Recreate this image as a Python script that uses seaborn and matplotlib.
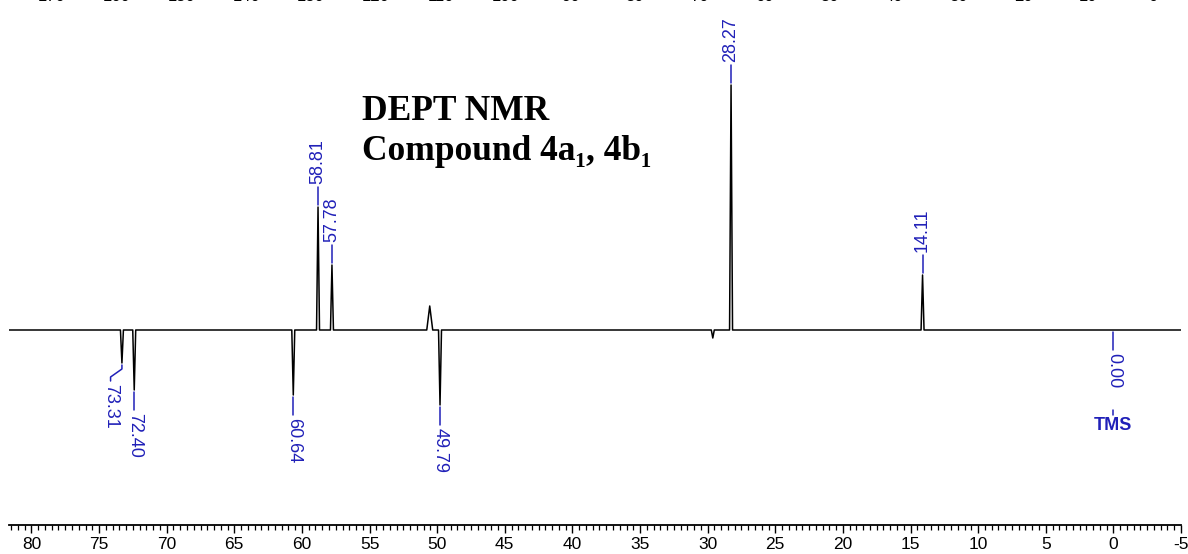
import matplotlib
matplotlib.use("Agg")
import matplotlib.pyplot as plt
import seaborn as sns
import pandas as pd

# ---------------- data ----------------
peak_ppm = [73.31, 72.40, 60.64, 58.81, 57.78, 50.55, 49.79, 29.62, 28.27, 14.11]
peak_int = [-33, -60, -65, 123, 65, 24, -75, -8, 245, 55]

label_ppm = [73.31, 72.40, 60.64, 58.81, 57.78, 49.79, 28.27, 14.11, 0.00]
label_text = ["73.31", "72.40", "60.64", "58.81", "57.78", "49.79", "28.27", "14.11", "0.00"]

x_ticks = [80, 75, 70, 65, 60, 55, 50, 45, 40, 35, 30, 25, 20, 15, 10, 5, 0, -5]
x_tick_labels = ["80", "75", "70", "65", "60", "55", "50", "45", "40", "35",
                 "30", "25", "20", "15", "10", "5", "0", "-5"]

top_ticks = [170, 160, 150, 140, 130, 120, 110, 100, 90, 80, 70, 60, 50, 40, 30, 20, 10, 0]
top_tick_labels = ["170", "160", "150", "140", "130", "120", "110", "100", "90",
                   "80", "70", "60", "50", "40", "30", "20", "10", "0"]

title_line1 = "DEPT NMR"
title_line2 = "Compound 4a\u2081, 4b\u2081"
tms_text = "TMS"

# ---------------- style ----------------
sns.set_style("white")
plt.rcParams["font.family"] = ["Liberation Sans", "DejaVu Sans"]
plt.rcParams["axes.unicode_minus"] = False

W, H = 1188, 554
BLUE = "#2020b8"
XL, XR = 81.66, -5.0

fig = plt.figure(figsize=(W / 100, H / 100), dpi=100)
ax = fig.add_axes([9 / W, 29 / H, 1172 / W, 525 / H])

# build spectrum trace from the peak list
half_w = {50.55: 0.22}
xs, ys = [XL], [0]
for p, h in sorted(zip(peak_ppm, peak_int), key=lambda t: -t[0]):
    w = half_w.get(p, 0.11)
    xs += [p + w, p, p - w]
    ys += [0, h, 0]
xs.append(XR)
ys.append(0)
spec = pd.DataFrame({"ppm": xs, "intensity": ys})
sns.lineplot(data=spec, x="ppm", y="intensity", sort=False, estimator=None,
             color="black", lw=1.1, ax=ax)

ax.set_xlim(XL, XR)
ax.set_ylim(-195, 330)

# peak labels
height = dict(zip(peak_ppm, peak_int))
for p, t in zip(label_ppm, label_text):
    h = height.get(p, 0)
    if p == 73.31:
        ax.plot([p, p, 74.15, 74.15], [h - 2, h - 6, h - 14, h - 18], color=BLUE, lw=1.1)
        ax.text(74.15, h - 21, t, rotation=270, ha="center", va="top",
                color=BLUE, fontsize=13)
    elif h > 0:
        ax.plot([p, p], [h + 2, h + 20], color=BLUE, lw=1.1)
        ax.text(p, h + 23, t, rotation=90, ha="center", va="bottom",
                color=BLUE, fontsize=13)
    else:
        ax.plot([p, p], [h - 2, h - 20], color=BLUE, lw=1.1)
        ax.text(p, h - 23, t, rotation=270, ha="center", va="top",
                color=BLUE, fontsize=13)
        if t == "0.00":
            ax.plot([p, p], [-80, -85], color=BLUE, lw=1.1)
            ax.text(p, -87, tms_text, ha="center", va="top", color=BLUE,
                    fontsize=13, fontweight="bold")

# axes styling
for s in ["left", "right", "top"]:
    ax.spines[s].set_visible(False)
ax.spines["bottom"].set_color("black")
ax.spines["bottom"].set_linewidth(1.3)
ax.set_yticks([])
ax.set_xticks(x_ticks)
ax.set_xticklabels(x_tick_labels)
ax.xaxis.set_minor_locator(matplotlib.ticker.MultipleLocator(0.5))
ax.tick_params(axis="x", which="major", direction="out", length=5.5, width=1,
               color="black", labelsize=12.5, pad=3, labelcolor="black")
ax.tick_params(axis="x", which="minor", direction="out", length=3.5, width=0.9,
               color="black")
ax.set_xlabel("")
ax.set_ylabel("")

# clipped top axis (from a wider spectrum)
axt = ax.twiny()
axt.set_xlim(176.64, -4.32)
axt.set_xticks(top_ticks)
axt.set_xticklabels(top_tick_labels)
axt.tick_params(axis="x", top=True, bottom=False, labelbottom=False, length=0,
                labelsize=12, pad=-2.6, labelcolor="black")
for s in axt.spines.values():
    s.set_visible(False)
axt.set_yticks([])

# title
serif = ["Liberation Serif", "DejaVu Serif"]
fig.text(362 / W, 1 - 120 / H, title_line1, family=serif, fontweight="bold",
         fontsize=25.5, va="baseline", ha="left", color="black")
fig.text(362 / W, 1 - 160 / H, title_line2, family=serif, fontweight="bold",
         fontsize=25.5, va="baseline", ha="left", color="black")

fig.savefig("out.png", dpi=100)
